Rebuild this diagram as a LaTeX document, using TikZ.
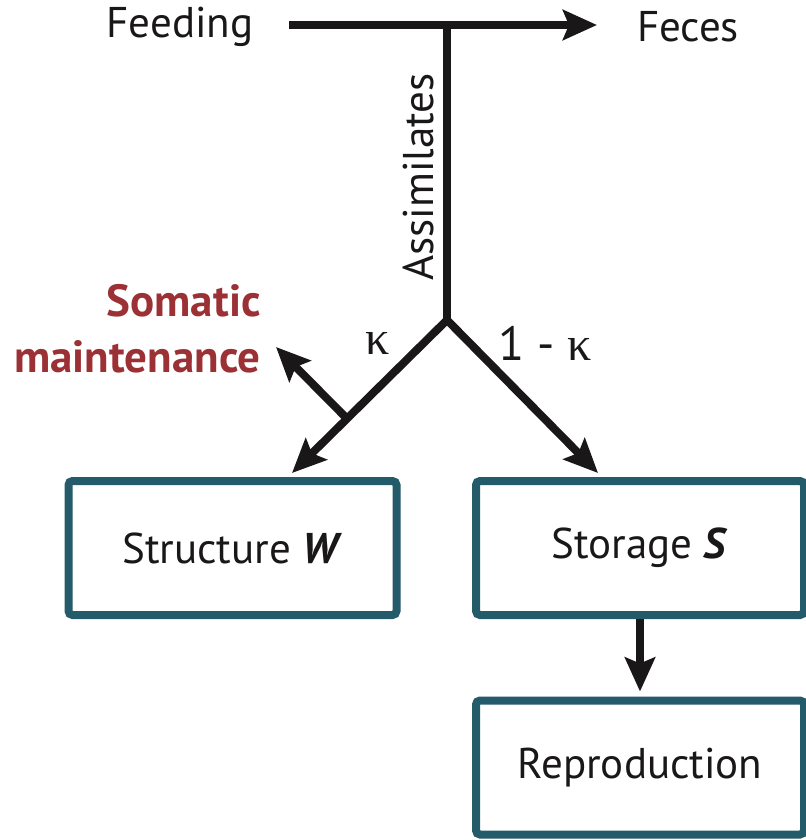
\documentclass[tikz,border=0pt]{standalone}
\usepackage{fontspec}
\setmainfont{PT Sans}
\newfontfamily\greekfont{Liberation Serif}
\usepackage{tikz}
\usetikzlibrary{arrows.meta, positioning, calc}
\definecolor{boxteal}{HTML}{235B6A}
\definecolor{somared}{HTML}{9B3035}
\definecolor{inkblack}{HTML}{1A1718}
\tikzset{
	compbox/.style={draw=boxteal, line width=4pt, rounded corners=2pt,
		minimum width=164pt, minimum height=67pt, inner sep=0pt,
		text=inkblack, font=\fontsize{21.5}{25}\selectfont}
}
\tikzset{
	flowtext/.style={font=\fontsize{21.5}{25}\selectfont, text=inkblack, inner sep=0pt}
}
\tikzset{
	splittext/.style={font=\fontsize{24}{28}\selectfont, text=inkblack, inner sep=0pt}
}
\tikzset{
	flowline/.style={line width=4pt, draw=inkblack,
		-{Stealth[length=17pt, width=15pt, inset=3pt]}}
}

\begin{document}
\begin{tikzpicture}[x=0.5pt, y=-0.5pt]

	\useasboundingbox (0,0) rectangle (806,840);

	% intake and the split
	\begin{scope}
		\node[flowtext] (feeding) at (180,27) {Feeding};
		\node[flowtext] (feces) at (688,27) {Feces};
		\node[flowtext, rotate=90] (assim) at (418,177) {Assimilates};

		\coordinate (tstart) at (289,25);
		\coordinate (tend) at (597,25);
		\coordinate (tjoin) at (447,25);
		\coordinate (split) at (447,320);
		\coordinate (tipW) at (292,473);
		\coordinate (tipS) at (598,473);
		\coordinate (sbase) at ($(split)!0.645!(tipW)$);
		\coordinate (stip) at (276,347);

		\draw[flowline] (tstart) -- (tend);
		\draw[line width=4pt, draw=inkblack] (tjoin) -- (split);
		\draw[flowline, {Stealth[length=17pt, width=15pt, inset=3pt]}-{Stealth[length=17pt, width=15pt, inset=3pt]}, line join=miter]
			(tipW) -- (split) -- (tipS);
		\draw[flowline] (sbase) -- (stip);

		\node[splittext] (kappa) at (378,343) {\greekfont κ};
		\node[splittext] (onekappa) at (545,343) {1 - {\greekfont κ}};
		\node[font=\fontsize{22.5}{28}\selectfont\bfseries, text=somared, align=right,
			anchor=east, inner sep=0pt] (soma) at (261,329) {Somatic\\maintenance};
	\end{scope}

	% compartments
	\begin{scope}
		\node[compbox] (struct) at (232.5,548) {Structure \textbf{\textit{W}}};
		\node[compbox] (stor) at (640,548) {Storage \textbf{\textit{S}}};
		\node[compbox] (repro) at (640,767.5) {Reproduction};

		\draw[flowline, shorten >=2.5pt] (stor.south) -- (repro.north);
	\end{scope}

\end{tikzpicture}
\end{document}
